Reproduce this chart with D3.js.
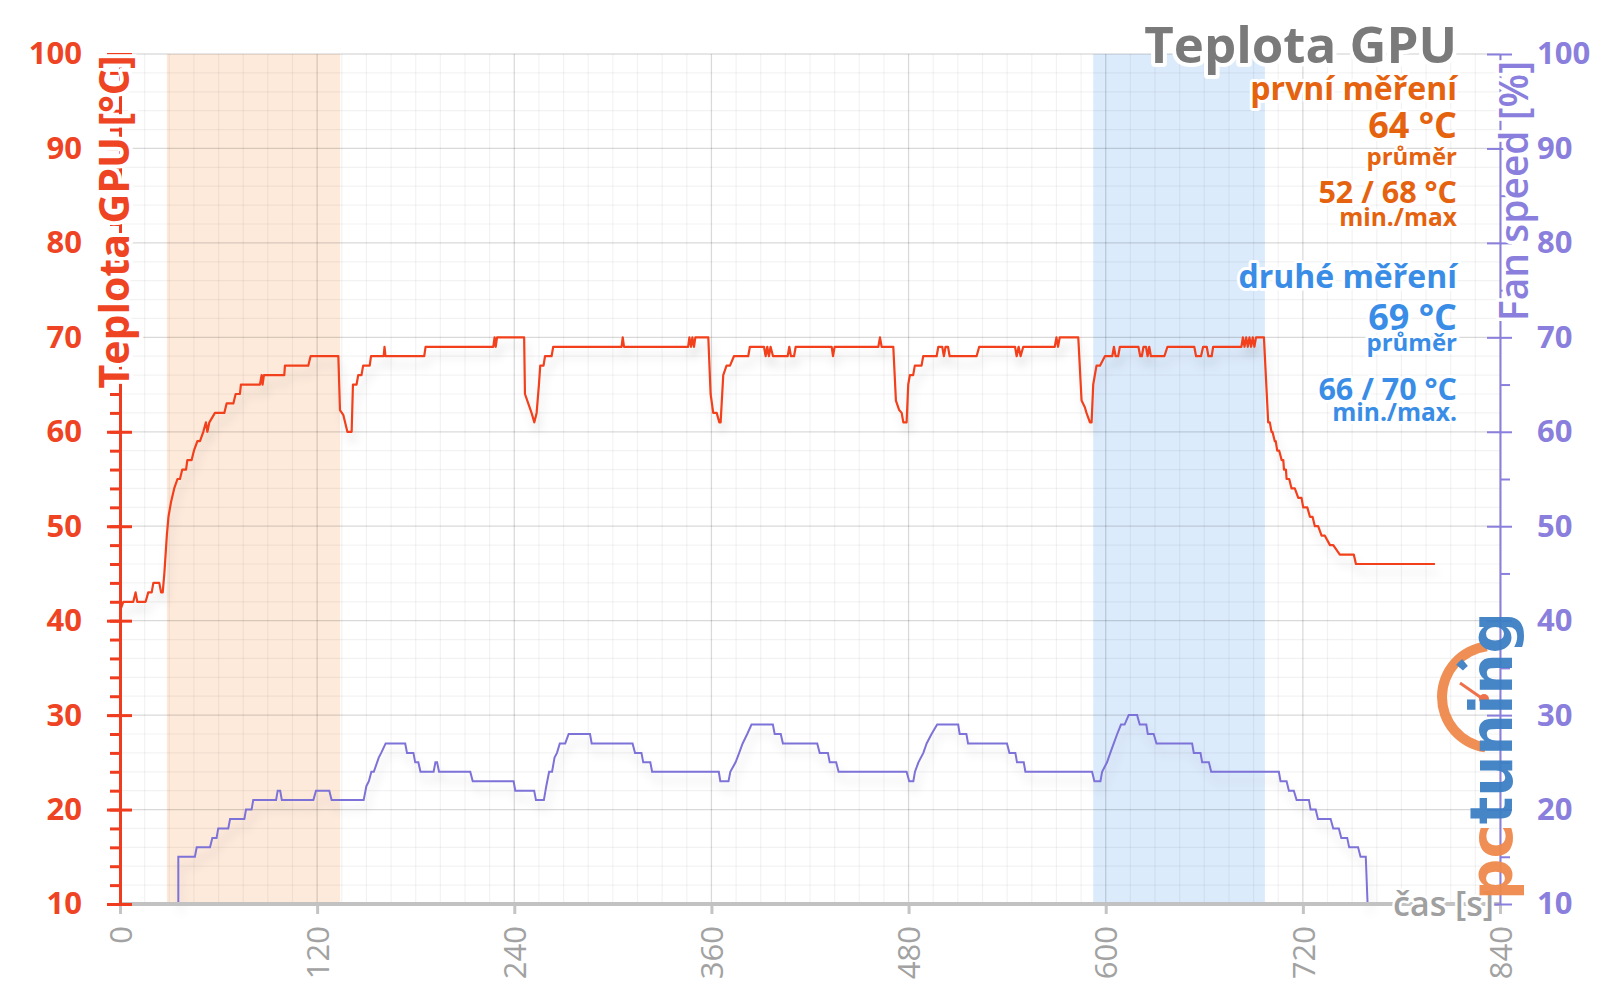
<!DOCTYPE html>
<html>
<head>
<meta charset="utf-8">
<script src="https://cdn.jsdelivr.net/npm/d3@7"></script>
<style>
  body { margin: 0; background: #fff; }
  svg { display: block; font-family: "Open Sans", sans-serif; }
</style>
</head>
<body>
<svg id="chart" width="1600" height="998"></svg>
<script>
// GPU temperature [s, °C]
const gpuTemp = [
  [0,41],[2,42],[8.1,42],[9.5,43],[10.5,42],[15.6,42],[17.2,43],[19.3,43],[20.3,44],[23.9,44],[25,43],[26,43],[27,45],
  [28.5,49],[29.5,51],[31,52.5],[33,54],[35,55],[36.5,55],[37.9,56],[40.2,56],[41,57],[43.6,57],[45,58],[47.1,59],[48.7,59],
  [50.7,60],[52.3,61],[53.2,60],[54.4,61],[57.8,62],[63.5,62],[64.9,63],[69,63],[70.4,64],[73,64],[73.6,65],[85.2,65],
  [86.2,66],[86.8,65],[87.6,66],[100,66],[100.4,67],[114.6,67],[116,68],[132.9,68],
  [133.9,62.3],[135.9,61.8],[138.4,60],[141,60],[141.8,65],[144,65],[145,66],[147,66],[148,67],[152,67],[152.8,68],
  [160.5,68],[161,69],[161.6,68],[185.2,68],[186,69],[227.2,69],[228,70],[228.7,69],[229.5,70],[246,70],
  [246.5,64],[248.5,63],[250.5,62],[252.2,61],[253.6,62],[255,65],[255.8,67],[257.8,67],[258.7,68],[262.7,68],[263.7,69],
  [305.3,69],[306,70],[306.8,69],[345.8,69],[346.6,70],[347.6,69],[348.4,70],[349.4,69],[350.2,70],[358.1,70],
  [359.5,64],[361.1,62],[363.2,62],[364.8,61],[365.6,61],[367.2,66],[369.2,67],[371.3,67],[373.7,68],[382.4,68],[383.4,69],
  [392,69],[393,68],[394,69],[395,68],[396,69],[397.5,68],[406.4,68],[407.4,69],[408.4,68],[410.3,68],[411.3,69],
  [433.2,69],[434,68],[435,69],[461.6,69],[462.6,70],[463.6,69],[470.7,69],
  [472.3,63.3],[474.3,62.3],[475.8,62],[476.8,61],[478.8,61],[479.8,65],[480.8,66],[482.8,66],[483.8,67],[487.9,67],[488.9,68],
  [497.1,68],[498.1,69],[500.5,69],[501.5,68],[502.5,69],[504,69],[505,68],[521.4,68],[523,69],
  [544.8,69],[545.8,68],[547,69],[548.2,68],[549.8,69],[569,69],[570,70],[571,69],[572,70],[583.3,70],
  [585.3,63.3],[587.3,62.6],[588.3,62],[590.4,61],[591.4,61],[592.4,65],[594.4,67],[596.5,67],[599.5,68],
  [604,68],[605,69],[606,68],[607.6,68],[608.6,69],[619.9,69],[621,68],[622,68],[623,69],[624.5,69],[625.5,68],[626.5,69],[627.5,68],
  [635.7,68],[637.6,69],[653.9,69],[655,68],[658,68],[659.3,69],[661.5,69],[662.5,68],[664.5,68],[665.4,69],
  [682.6,69],[683.5,70],[684.5,69],[685.5,70],[686.5,69],[687.5,70],[688.5,69],[689.5,70],[690.5,69],[691.5,70],[696.3,70],
  [698.9,61],[699.9,61],[700.9,60],[701.5,60],[702.9,59],[703.5,59],[704.4,58],[705.6,58],[707.1,57],[708.1,57],
  [708.5,56],[709.7,56],[710.1,55],[711.7,55],[713.1,54],[715.1,54],[717.2,53],[719.2,53],[720.2,52],[722.7,52],
  [724.3,51],[725.9,51],[727.3,50],[729.3,50],[731.4,49],[733.4,49],[736.5,48],[738.5,48],[742.5,47],[751,47],
  [752.3,46],[800.4,46]
];

// fan speed [s, %]
const fanSpeed = [
  [35.5,10],[35.5,15],[45.6,15],[46.7,16],[54.8,16],[56.2,17],[58.8,17],[59.8,18],[65.9,18],[67,19],[75.7,19],[76.7,20],
  [80.1,20],[81.1,21],[95,21],[96,22],[97.5,22],[98.5,21],[117.7,21],[119.3,22],[127.4,22],[128.8,21],[148.3,21],
  [150,22.5],[151.5,23],[153,24],[154.5,24],[156.5,25],[157.5,25.5],[159,26],[161.7,27],[173.6,27],[174.7,26],[178.6,26],
  [179.7,25],[181.6,25],[182.9,24],[190.9,24],[192,25],[193,25],[194.2,24],[213.2,24],[214.7,23],[239.6,23],[240.6,22],
  [252.1,22],[253.2,21],[258,21],[259.5,22.5],[261.2,24],[263,24],[264.5,25.5],[266,26],[267.7,27],[271,27],[273.1,28],
  [286.1,28],[287.1,27],[312,27],[313.5,26],[317.4,26],[318.5,25],[322.8,25],[323.9,24],[364.5,24],[365.4,23],[370.4,23],
  [371.5,24],[374.7,25],[376.9,26],[379,27],[381.8,28],[384.4,29],[397.4,29],[398.5,28],[402.2,28],[403.5,27],[424.4,27],
  [425.9,26],[430.9,26],[432,25],[435.9,25],[437.4,24],[478.8,24],[480.4,23],[482.9,23],[483.9,24],[486,25],[489,26],
  [491,27],[494,28],[497.4,29],[510.2,29],[511.1,28],[515.2,28],[516.2,27],[539.9,27],[541.4,26],[545,26],[546,25],
  [550.1,25],[551.1,24],[591.7,24],[593.1,23],[596.8,23],[597.8,24],[600.8,25],[602.8,26],[604.9,27],[607,28],[609.3,29],
  [611.5,29],[614,30],[619.1,30],[620.7,29],[624.7,29],[625.6,28],[629.2,28],[630.9,27],[652.6,27],[653.6,26],[657.7,26],
  [658.7,25],[662.8,25],[664.2,24],[705.4,24],[706.4,23],[710.1,23],[711.5,22],[714.5,22],[716.2,21],[723.7,21],
  [724.7,20],[727.8,20],[729.2,19],[736.9,19],[738.5,18],[741.9,18],[743.4,17],[747,17],[748.2,16],[753.6,16],
  [755.1,15],[758.3,15],[759.4,10]
];

// highlighted measuring windows [start s, end s]
const firstRun = [28.5, 134];
const secondRun = [592.4, 696.9];

const timeTicks = [0, 120, 240, 360, 480, 600, 720, 840];
const tempTicks = [10, 20, 30, 40, 50, 60, 70, 80, 90, 100];
const fanTicks = [10, 20, 30, 40, 50, 60, 70, 80, 90, 100];

const title = "Teplota GPU";
const firstStats = ["první měření", "64 °C", "průměr", "52 / 68 °C", "min./max"];
const secondStats = ["druhé měření", "69 °C", "průměr", "66 / 70 °C", "min./max."];

const margin = { top: 54, right: 100, bottom: 94, left: 120 };
const width = 1600, height = 998;

const tempColor = "#f03c1e";
const fanColor = "#8a7fdc";

const svg = d3.select("#chart");

const x = d3.scaleLinear().domain([0, 840]).range([margin.left, width - margin.right]);
const y = d3.scaleLinear().domain([10, 100]).range([height - margin.bottom, margin.top]);
const yFan = d3.scaleLinear().domain([10, 100]).range([height - margin.bottom, margin.top]);

const defs = svg.append("defs");
const shadow = defs.append("filter").attr("id", "shadow")
  .attr("x", "-5%").attr("y", "-20%").attr("width", "110%").attr("height", "160%");
shadow.append("feDropShadow").attr("dx", 3).attr("dy", 9).attr("stdDeviation", 5)
  .attr("flood-color", "#000").attr("flood-opacity", 0.12);

// measuring windows
svg.append("rect")
  .attr("x", x(firstRun[0])).attr("y", y(100))
  .attr("width", x(firstRun[1]) - x(firstRun[0])).attr("height", y(10) - y(100))
  .attr("fill", "#fdeadb");
svg.append("rect")
  .attr("x", x(secondRun[0])).attr("y", y(100))
  .attr("width", x(secondRun[1]) - x(secondRun[0])).attr("height", y(10) - y(100))
  .attr("fill", "#dcebfc");

// grid
const grid = svg.append("g").attr("class", "grid");
grid.selectAll(".vminor").data(d3.range(0, 841, 15)).join("line")
  .attr("x1", d => x(d)).attr("x2", d => x(d)).attr("y1", y(100)).attr("y2", y(10))
  .attr("stroke", "rgba(0,0,0,0.05)").attr("stroke-width", 1.2);
grid.selectAll(".hminor").data(d3.range(10, 101, 2)).join("line")
  .attr("x1", x(0)).attr("x2", x(840)).attr("y1", d => y(d)).attr("y2", d => y(d))
  .attr("stroke", "rgba(0,0,0,0.05)").attr("stroke-width", 1.2);
grid.append("g").selectAll("line").data(timeTicks).join("line")
  .attr("x1", d => x(d)).attr("x2", d => x(d)).attr("y1", y(100)).attr("y2", y(10))
  .attr("stroke", "rgba(0,0,0,0.1)").attr("stroke-width", 1.3);
grid.append("g").selectAll("line").data(tempTicks).join("line")
  .attr("x1", x(0)).attr("x2", x(840)).attr("y1", d => y(d)).attr("y2", d => y(d))
  .attr("stroke", "rgba(0,0,0,0.1)").attr("stroke-width", 1.3);

// series
const tempLine = d3.line().x(d => x(d[0])).y(d => y(d[1]));
const fanLine = d3.line().x(d => x(d[0])).y(d => yFan(d[1]));

svg.append("path").datum(fanSpeed)
  .attr("d", fanLine).attr("fill", "none")
  .attr("stroke", "#7d72d8").attr("stroke-width", 2)
  .attr("filter", "url(#shadow)");
svg.append("path").datum(gpuTemp)
  .attr("d", tempLine).attr("fill", "none")
  .attr("stroke", "#f2401c").attr("stroke-width", 2.2)
  .attr("stroke-linejoin", "round")
  .attr("filter", "url(#shadow)");

// x axis
const xAxis = svg.append("g")
  .attr("transform", `translate(0,${y(10)})`)
  .call(d3.axisBottom(x).tickValues(timeTicks).tickSize(10).tickSizeOuter(0));
xAxis.select(".domain").remove();
xAxis.selectAll(".tick line").attr("stroke", "#c4c4c4").attr("stroke-width", 3);
xAxis.selectAll(".tick text")
  .attr("transform", "rotate(-90)")
  .attr("x", -22).attr("y", 0).attr("dy", "0.36em")
  .style("text-anchor", "end")
  .style("font-size", "31px").style("font-family", "Open Sans")
  .attr("fill", "#a2a2a2");
svg.append("line")
  .attr("x1", x(0)).attr("x2", x(840)).attr("y1", y(10)).attr("y2", y(10))
  .attr("stroke", "#c2c2c2").attr("stroke-width", 4);

// left axis (temperature)
const leftMinor = svg.append("g").attr("transform", `translate(${x(0)},0)`)
  .call(d3.axisLeft(y).tickValues(d3.range(12, 100, 2)).tickSize(10).tickFormat(""));
leftMinor.select(".domain").remove();
leftMinor.selectAll(".tick line").attr("stroke", tempColor).attr("stroke-width", 3);

const leftInner = svg.append("g").attr("transform", `translate(${x(0)},0)`)
  .call(d3.axisRight(y).tickValues(tempTicks).tickSize(12).tickFormat(""));
leftInner.select(".domain").remove();
leftInner.selectAll(".tick line").attr("stroke", tempColor).attr("stroke-width", 3);

const leftAxis = svg.append("g").attr("transform", `translate(${x(0)},0)`)
  .call(d3.axisLeft(y).tickValues(tempTicks).tickSize(13).tickPadding(25).tickSizeOuter(0));
leftAxis.select(".domain").attr("stroke", tempColor).attr("stroke-width", 3);
leftAxis.selectAll(".tick line").attr("stroke", tempColor).attr("stroke-width", 3);
leftAxis.selectAll(".tick text")
  .attr("fill", "#ef4423").style("font-size", "31px").style("font-weight", 700)
  .style("font-family", "Open Sans");

// right axis (fan)
const rightMinor = svg.append("g").attr("transform", `translate(${x(840)},0)`)
  .call(d3.axisRight(yFan).tickValues(d3.range(15, 100, 10)).tickSize(10).tickFormat(""));
rightMinor.select(".domain").remove();
rightMinor.selectAll(".tick line").attr("stroke", fanColor).attr("stroke-width", 2);

const rightInner = svg.append("g").attr("transform", `translate(${x(840)},0)`)
  .call(d3.axisLeft(yFan).tickValues(fanTicks).tickSize(13).tickFormat(""));
rightInner.select(".domain").remove();
rightInner.selectAll(".tick line").attr("stroke", fanColor).attr("stroke-width", 2);

const rightAxis = svg.append("g").attr("transform", `translate(${x(840)},0)`)
  .call(d3.axisRight(yFan).tickValues(fanTicks).tickSize(12).tickPadding(25).tickSizeOuter(0));
rightAxis.select(".domain").attr("stroke", fanColor).attr("stroke-width", 2);
rightAxis.selectAll(".tick line").attr("stroke", fanColor).attr("stroke-width", 2);
rightAxis.selectAll(".tick text")
  .attr("fill", fanColor).style("font-size", "31px").style("font-weight", 700)
  .style("font-family", "Open Sans");

// text with white halo
function halo(sel, w) {
  return sel.attr("stroke", "#fff").attr("stroke-width", w)
    .attr("stroke-linejoin", "round").attr("paint-order", "stroke");
}

// axis titles
halo(svg.append("text")
  .attr("transform", `translate(129,222) rotate(-90)`)
  .attr("text-anchor", "middle")
  .attr("fill", "#ef4423").style("font-size", "41px").style("font-weight", 700)
  .text("Teplota GPU [°C]"), 8);

halo(svg.append("text")
  .attr("transform", `translate(1528,191) rotate(-90)`)
  .attr("text-anchor", "middle")
  .attr("fill", fanColor).style("font-size", "39px").style("font-weight", 600)
  .text("Fan speed [%]"), 7);

halo(svg.append("text")
  .attr("x", 1494).attr("y", 916)
  .attr("text-anchor", "end")
  .attr("fill", "#a0a0a0").style("font-size", "34px").style("font-weight", 600)
  .text("čas [s]"), 5);

// title and summary block
const rightEdge = 1457;
halo(svg.append("text")
  .attr("x", rightEdge).attr("y", 63).attr("text-anchor", "end")
  .attr("fill", "#7a7a7a").style("font-size", "51px").style("font-weight", 700)
  .text(title), 8);

const statSizes = [32, 36, 24, 30.5, 24.5];
const firstBase = [100, 138, 165, 203, 226];
const secondBase = [288, 330, 351, 400, 421];

firstStats.forEach((t, i) => {
  halo(svg.append("text")
    .attr("x", rightEdge).attr("y", firstBase[i]).attr("text-anchor", "end")
    .attr("fill", "#e5620f").style("font-size", statSizes[i] + "px").style("font-weight", 700)
    .text(t), 6);
});
secondStats.forEach((t, i) => {
  halo(svg.append("text")
    .attr("x", rightEdge).attr("y", secondBase[i]).attr("text-anchor", "end")
    .attr("fill", "#3a8de6").style("font-size", statSizes[i] + "px").style("font-weight", 700)
    .text(t), 6);
});

// pctuning logo
const logo = svg.append("g").attr("opacity", 0.95);
logo.append("path")
  .attr("transform", "translate(1493,697)")
  .attr("d", d3.arc().innerRadius(46).outerRadius(56)
    .startAngle(Math.PI + 0.15).endAngle(2 * Math.PI - 0.12)())
  .attr("fill", "#f08a4c");
logo.append("path")
  .attr("transform", "translate(1493,697)")
  .attr("d", d3.arc().innerRadius(40).outerRadius(49)
    .startAngle(2 * Math.PI - 0.85).endAngle(2 * Math.PI - 0.68)())
  .attr("fill", "#3d7fc4");
logo.append("line")
  .attr("x1", 1460).attr("y1", 683).attr("x2", 1483).attr("y2", 699)
  .attr("stroke", "#ee6a43").attr("stroke-width", 3);
logo.append("circle").attr("cx", 1484).attr("cy", 699).attr("r", 5).attr("fill", "#ee6a43");
const logoText = logo.append("text")
  .attr("transform", "translate(1512,900) rotate(-90)")
  .attr("textLength", 288).attr("lengthAdjust", "spacingAndGlyphs")
  .style("font-size", "58px").style("font-weight", 700)
  .style("font-family", "DejaVu Sans");
logoText.append("tspan").attr("fill", "#f08a4c").text("pc");
logoText.append("tspan").attr("fill", "#3d7fc4").text("tuning");
</script>
</body>
</html>
